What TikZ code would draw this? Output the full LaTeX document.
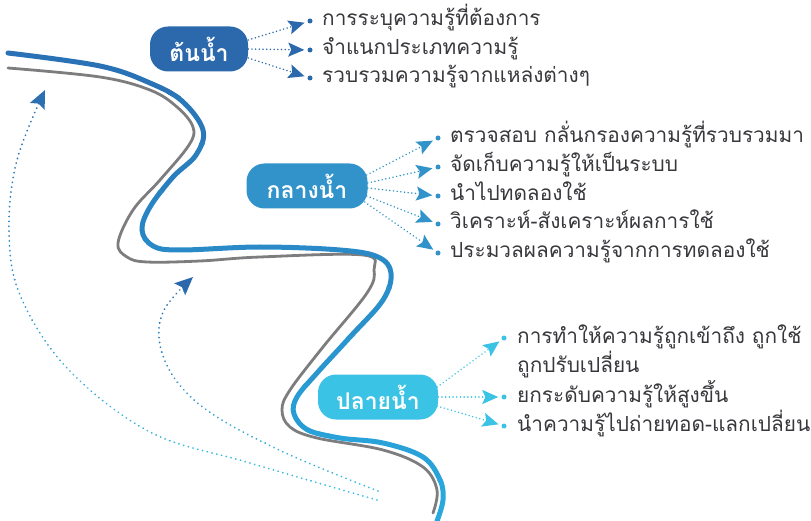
\documentclass[tikz,border=0pt]{standalone}
\usepackage{fontspec}
\usepackage{xcolor}
\usetikzlibrary{arrows.meta}
\newfontfamily\thai[Script=Thai]{Loma}
\definecolor{deepblue}{RGB}{43,104,172}
\definecolor{midblue}{RGB}{49,147,201}
\definecolor{skyblue}{RGB}{59,195,230}
\definecolor{riverdark}{RGB}{42,108,178}
\definecolor{riverlight}{RGB}{40,168,220}
\definecolor{bankgray}{RGB}{125,125,128}
\definecolor{inkgray}{RGB}{55,55,60}

\tikzset{
  stage/.style={fill=#1, text=white, rounded corners=18pt, minimum height=45pt,
    inner sep=0pt, font=\thai\bfseries\fontsize{23}{25}\selectfont},
  item/.style={anchor=base west, inner sep=0pt, text=inkgray, align=left,
    font=\thai\fontsize{20.8}{28.7}\selectfont},
  dot/.style={circle, fill=#1, inner sep=0pt, minimum size=5pt},
  link/.style={#1, line width=1.6pt, dash pattern=on 0.1pt off 3.6pt, line cap=round,
    -{Stealth[length=16pt,width=14pt,inset=3pt]}, shorten >=3pt},
  back/.style={line width=1.9pt, dash pattern=on 0.1pt off 4.8pt, line cap=round,
    -{Stealth[length=18pt,width=16pt,inset=3pt]}},
}

% the two banks of the river
\newcommand\bluebank{plot[smooth, tension=0.6] coordinates {(8,53) (100,66) (150,83)
  (182,101) (203,130) (196,155) (173,177) (150,207) (142,230) (153,246) (180,250)
  (260,247) (340,250) (378,257) (391,273) (383,300) (350,337) (317,373) (297,397)
  (294,414) (308,430) (340,438) (383,443) (423,457) (440,480) (443,500) (437,521)}}
\newcommand\graybank{plot[smooth, tension=0.6] coordinates {(8,68) (100,77) (150,90)
  (177,107) (193,127) (189,145) (160,180) (133,210) (118,243) (127,257) (147,262)
  (200,261) (260,257) (363,255) (374,270) (367,293) (323,347) (290,390) (282,410)
  (290,427) (317,438) (383,450) (423,467) (437,490) (433,513)}}
% the two return loops
\newcommand\bigloop{plot[smooth, tension=0.6] coordinates {(377,500) (250,463)
  (150,432) (67,368) (20,295) (9,230) (17,160) (45,90)}}
\newcommand\smallloop{plot[smooth, tension=0.6] coordinates {(378,491) (290,455)
  (217,417) (178,383) (160,345) (164,310) (193,277)}}

\begin{document}
\begin{tikzpicture}[x=1pt,y=-1pt]
  \useasboundingbox (0,0) rectangle (811,521);

  % river, blue bank fades from deep to light
  \draw[bankgray, line width=2.8pt, line cap=round] \graybank;
  \foreach \i in {0,...,10}{
    \pgfmathsetmacro\shade{100-\i*10}
    \begin{scope}
      \clip (-5,\i*48-1) rectangle (816,\i*48+49);
      \draw[riverdark!\shade!riverlight, line width=5pt, line cap=round] \bluebank;
    \end{scope}
  }

  % loops going back upstream
  \foreach \i in {0,...,11}{
    \pgfmathsetmacro\shade{100-\i*9}
    \begin{scope}
      \clip (-5,40+\i*40) rectangle (816,80+\i*40);
      \draw[back, deepblue!\shade!skyblue] \bigloop;
    \end{scope}
  }
  \foreach \i in {0,...,7}{
    \pgfmathsetmacro\shade{100-\i*13}
    \begin{scope}
      \clip (-5,262+\i*30) rectangle (816,292+\i*30);
      \draw[back, deepblue!\shade!skyblue] \smallloop;
    \end{scope}
  }

  % upstream
  \node[stage=deepblue, minimum width=98pt] (up) at (199,49) {ต้นน้ำ};
  \node[dot=deepblue] (u1dot) at (310,21) {};
  \node[dot=deepblue] (u2dot) at (310,50) {};
  \node[dot=deepblue] (u3dot) at (310,78) {};
  \node[item] (u1) at (322,26) {การระบุความรู้ที่ต้องการ};
  \node[item] (u2) at (322,55) {จำแนกประเภทความรู้};
  \node[item] (u3) at (322,83) {รวบรวมความรู้จากแหล่งต่างๆ};
  \draw[link=deepblue] ([yshift=9pt]up.east) -- (u1dot);
  \draw[link=deepblue] (up.east) -- (u2dot);
  \draw[link=deepblue] ([yshift=-9pt]up.east) -- (u3dot);

  % midstream
  \node[stage=midblue, minimum width=121pt] (mid) at (307,186) {กลางน้ำ};
  \node[dot=midblue] (m1dot) at (438,138) {};
  \node[dot=midblue] (m2dot) at (438,167) {};
  \node[dot=midblue] (m3dot) at (438,196) {};
  \node[dot=midblue] (m4dot) at (438,224) {};
  \node[dot=midblue] (m5dot) at (438,253) {};
  \node[item] (m1) at (450,143) {ตรวจสอบ กลั่นกรองความรู้ที่รวบรวมมา};
  \node[item] (m2) at (450,172) {จัดเก็บความรู้ให้เป็นระบบ};
  \node[item] (m3) at (450,201) {นำไปทดลองใช้};
  \node[item] (m4) at (450,229) {วิเคราะห์-สังเคราะห์ผลการใช้};
  \node[item] (m5) at (450,258) {ประมวลผลความรู้จากการทดลองใช้};
  \draw[link=midblue] ([yshift=11pt,xshift=-1pt]mid.east) -- (m1dot);
  \draw[link=midblue] ([yshift=3pt]mid.east) -- (m2dot);
  \draw[link=midblue] ([yshift=-2pt]mid.east) -- (m3dot);
  \draw[link=midblue] ([yshift=-10pt,xshift=-1pt]mid.east) -- (m4dot);
  \draw[link=midblue] ([yshift=-16pt,xshift=-3pt]mid.east) -- (m5dot);

  % downstream
  \node[stage=skyblue, minimum width=120pt] (down) at (378,397) {ปลายน้ำ};
  \node[dot=skyblue] (d1dot) at (504,338) {};
  \node[dot=skyblue] (d2dot) at (504,397) {};
  \node[dot=skyblue] (d3dot) at (504,426) {};
  \node[item] (d1) at (517,372) {การทำให้ความรู้ถูกเข้าถึง ถูกใช้\\ถูกปรับเปลี่ยน};
  \node[item] (d2) at (517,402) {ยกระดับความรู้ให้สูงขึ้น};
  \node[item] (d3) at (517,431) {นำความรู้ไปถ่ายทอด-แลกเปลี่ยน};
  \draw[link=skyblue] ([yshift=10pt,xshift=-1pt]down.east) -- (d1dot);
  \draw[link=skyblue] (down.east) -- (d2dot);
  \draw[link=skyblue] ([yshift=-9pt,xshift=-1pt]down.east) -- (d3dot);
\end{tikzpicture}
\end{document}
